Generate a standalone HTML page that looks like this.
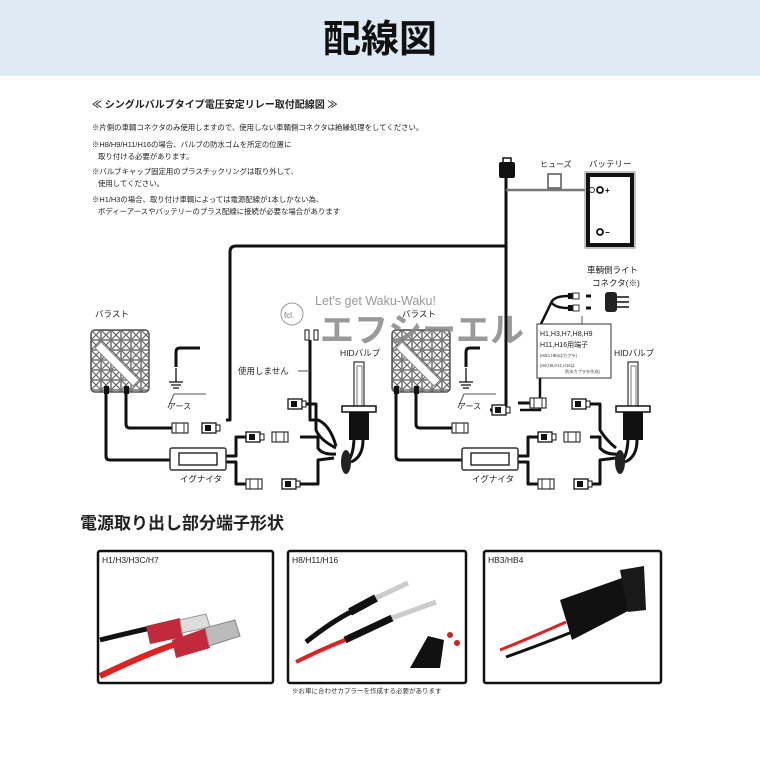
<!DOCTYPE html>
<html><head><meta charset="utf-8"><style>
body{margin:0;width:760px;height:760px;background:#fff;overflow:hidden}
svg{display:block}
text{font-family:"Liberation Sans","Noto Sans CJK JP",sans-serif}
</style></head><body>
<svg width="760" height="760" viewBox="0 0 760 760" xmlns="http://www.w3.org/2000/svg">
<defs>
<pattern id="xp" width="10" height="10" patternUnits="userSpaceOnUse">
<rect width="10" height="10" fill="#fff"/>
<path d="M0 0L10 10M10 0L0 10" stroke="#666" stroke-width="1.2"/>
<rect x="0.5" y="0.5" width="9" height="9" fill="none" stroke="#777" stroke-width="0.8"/>
</pattern>
<g id="ballast">
<rect x="0" y="0" width="58" height="62" rx="4" fill="url(#xp)" stroke="#555" stroke-width="1.5"/>
<path d="M10 12 L48 50 L42 56 L4 18Z" fill="#fff" stroke="#888"/>
</g>
<g id="bulb">
<rect x="-5" y="0" width="10" height="48" fill="#fff" stroke="#333" stroke-width="1.2"/>
<rect x="-2" y="4" width="5" height="40" fill="none" stroke="#777"/>
<rect x="-17" y="44" width="34" height="6" fill="#fff" stroke="#111" stroke-width="1.5"/>
<rect x="-10" y="50" width="20" height="28" fill="#111"/>
<path d="M-5 78 Q-6 95 -12 100 M4 78 Q4 95 -8 100" stroke="#111" stroke-width="3" fill="none"/>
<ellipse cx="-13" cy="100" rx="5" ry="12" fill="#222"/>
</g>
<g id="conn">
<rect x="0" y="-5" width="14" height="10" fill="#fff" stroke="#111" stroke-width="1.3"/>
<rect x="3" y="-3" width="6" height="6" fill="#111"/>
<rect x="14" y="-3" width="4" height="6" fill="#fff" stroke="#111"/>
</g>
<g id="connw">
<rect x="0" y="-5" width="16" height="10" fill="#fff" stroke="#333" stroke-width="1.2"/>
<path d="M4 -5V5M12 -5V5" stroke="#333"/>
</g>
<g id="ign">
<rect x="0" y="0" width="56" height="22" rx="2" fill="#fff" stroke="#333" stroke-width="1.5"/>
<rect x="9" y="5" width="38" height="12" fill="#fff" stroke="#111" stroke-width="1.3"/>
</g>
<g id="earth">
<path d="M0 -18 V-4 M-7 -4 H7 M-5 -1 H5 M-3 2 H3" stroke="#111" stroke-width="1.3" fill="none"/>
<path d="M-8 22 L-2 8 M-2 8 H30" stroke="#555" fill="none"/>
</g>
</defs>

<rect x="0" y="0" width="760" height="76" fill="#dfeaf5"/>
<text x="380" y="52" font-size="38" font-weight="bold" text-anchor="middle" fill="#111">配線図</text>

<text x="92" y="108" font-size="10" font-weight="bold" fill="#222">≪ シングルバルブタイプ電圧安定リレー取付配線図 ≫</text>
<g font-size="7.4" fill="#222">
<text x="92" y="130">※片側の車輌コネクタのみ使用しますので、使用しない車輌側コネクタは絶縁処理をしてください。</text>
<text x="92" y="147">※H8/H9/H11/H16の場合、バルブの防水ゴムを所定の位置に</text>
<text x="98" y="159">取り付ける必要があります。</text>
<text x="92" y="174">※バルブキャップ固定用のプラスチックリングは取り外して、</text>
<text x="98" y="186">使用してください。</text>
<text x="92" y="202">※H1/H3の場合、取り付け車輌によっては電源配線が1本しかない為、</text>
<text x="98" y="214">ボディーアースやバッテリーのプラス配線に接続が必要な場合があります</text>
</g>

<g stroke="#111" stroke-width="3" fill="none" stroke-linejoin="round">
<path d="M226 420 H230 V252 Q230 246 236 246 H506"/>
<path d="M506 178 V410 H490"/>
<path d="M176 367 V352 Q176 348 180 348 H200"/>
<path d="M466 367 V352 Q466 348 470 348 H480"/>
<path d="M106 392 V456 Q106 460 110 460 H170"/>
<path d="M126 392 V424 Q126 428 130 428 H172"/>
<path d="M396 392 V456 Q396 460 400 460 H462"/>
<path d="M416 392 V424 Q416 428 420 428 H452"/>
<path d="M225 456 H236 V437 H246 M225 462 H236 V484 H246"/>
<path d="M517 456 H528 V437 H538 M517 462 H528 V484 H538"/>
<path d="M300 437 H318 V448 Q322 455 336 454"/>
<path d="M300 484 H318 V460 L334 458"/>
<path d="M590 437 H600 V448 Q606 455 618 454"/>
<path d="M590 484 H600 V460 L616 458"/>
<path d="M296 404 H316 V430 Q320 440 336 448"/>
<path d="M310 340 V420 H318 Q330 425 336 446"/>
<path d="M583 404 H600 V430 Q606 440 616 448"/>
<path d="M518 403 H540"/>
</g>
<path d="M506 190 H588" stroke="#777" stroke-width="2.5"/>
<path d="M568 296 Q556 296 552 301 L540 326 V410 H520 M568 308 Q556 308 552 303" stroke="#111" stroke-width="2.5" fill="none"/>
<path d="M582 316 V324" stroke="#555"/>

<rect x="499" y="162" width="16" height="16" rx="2" fill="#111"/>
<rect x="503" y="158" width="8" height="5" fill="none" stroke="#111" stroke-width="1.5"/>
<rect x="548" y="174" width="13" height="14" fill="#fff" stroke="#555" stroke-width="1.5"/>
<text x="540" y="167" font-size="8" fill="#222">ヒューズ</text>
<text x="589" y="167" font-size="8.5" fill="#222">バッテリー</text>
<rect x="585" y="172" width="50" height="76" fill="#fff" stroke="#888" stroke-width="1"/>
<rect x="588" y="175" width="44" height="70" fill="none" stroke="#111" stroke-width="4"/>
<circle cx="592" cy="190" r="2.5" fill="#fff" stroke="#333"/>
<circle cx="600" cy="190" r="3" fill="#fff" stroke="#111" stroke-width="1.8"/>
<text x="605" y="193" font-size="8" font-weight="bold">+</text>
<circle cx="600" cy="232" r="3" fill="#fff" stroke="#111" stroke-width="1.8"/>
<text x="605" y="235" font-size="8" font-weight="bold">−</text>

<text x="95" y="317" font-size="8.5" fill="#222">バラスト</text>
<use href="#ballast" x="91" y="330"/>
<text x="402" y="317" font-size="8.5" fill="#222">バラスト</text>
<use href="#ballast" x="392" y="330"/>
<rect x="104" y="386" width="5" height="8" fill="#111"/><rect x="124" y="386" width="5" height="8" fill="#111"/>
<rect x="394" y="386" width="5" height="8" fill="#111"/><rect x="414" y="386" width="5" height="8" fill="#111"/>
<use href="#earth" x="176" y="386"/>
<text x="168" y="409" font-size="8" fill="#222">アース</text>
<use href="#earth" x="466" y="386"/>
<text x="458" y="409" font-size="8" fill="#222">アース</text>

<use href="#connw" x="172" y="428"/><use href="#conn" x="202" y="428"/>
<use href="#connw" x="452" y="428"/><use href="#conn" x="492" y="410"/>
<use href="#conn" x="288" y="404"/><use href="#conn" x="572" y="404"/>
<use href="#connw" x="530" y="403"/>
<use href="#conn" x="246" y="437"/><use href="#connw" x="272" y="437"/>
<use href="#connw" x="246" y="484"/><use href="#conn" x="282" y="484"/>
<use href="#conn" x="538" y="437"/><use href="#connw" x="564" y="437"/>
<use href="#connw" x="538" y="484"/><use href="#conn" x="574" y="484"/>

<use href="#ign" x="170" y="448"/>
<text x="180" y="482" font-size="8.5" fill="#222">イグナイタ</text>
<use href="#ign" x="462" y="448"/>
<text x="472" y="482" font-size="8.5" fill="#222">イグナイタ</text>

<text x="340" y="356" font-size="8.5" fill="#222">HIDバルブ</text>
<use href="#bulb" x="359" y="362"/>
<text x="614" y="356" font-size="8.5" fill="#222">HIDバルブ</text>
<use href="#bulb" x="633" y="362"/>

<text x="238" y="374" font-size="8.5" fill="#222">使用しません</text>
<path d="M298 371 H310" stroke="#555"/>
<rect x="305" y="330" width="4" height="10" fill="#fff" stroke="#111"/><rect x="314" y="330" width="4" height="10" fill="#fff" stroke="#111"/>

<text x="587" y="273" font-size="8.5" fill="#222">車輌側ライト</text>
<text x="592" y="286" font-size="8.5" fill="#222">コネクタ(※)</text>
<rect x="568" y="293" width="5" height="6" fill="#111"/><rect x="573" y="293" width="6" height="6" fill="#fff" stroke="#333"/>
<rect x="568" y="305" width="5" height="6" fill="#111"/><rect x="573" y="305" width="6" height="6" fill="#fff" stroke="#333"/>
<path d="M586 296 h5 M586 308 h5" stroke="#111" stroke-width="3"/>
<rect x="605" y="292" width="12" height="20" rx="3" fill="#222"/>
<path d="M617 297 h12 M617 302 h12 M617 307 h12" stroke="#111" stroke-width="1.5"/>
<rect x="537" y="324" width="74" height="54" fill="#fff" stroke="#333"/>
<text x="540" y="336" font-size="7" fill="#222">H1,H3,H7,H8,H9</text>
<text x="540" y="347" font-size="7" fill="#222">H11,H16用端子</text>
<text x="540" y="357" font-size="4.2" fill="#444">(HB3,HB4はカプラ)</text>
<text x="540" y="367" font-size="4.2" fill="#444">(H8,H9,H11,H16は</text>
<text x="565" y="373" font-size="4.2" fill="#444">防水カプラを作成)</text>

<g>
<circle cx="292" cy="314" r="11" fill="#fff" stroke="#999"/>
<text x="284" y="318" font-size="8" fill="#777" font-family="Liberation Serif,serif">fcl.</text>
<text x="315" y="305" font-size="12.5" fill="#999">Let's get Waku-Waku!</text>
<text x="320" y="342" font-size="34" font-weight="bold" fill="#888" fill-opacity="0.85">エフシーエル</text>
</g>

<text x="80" y="529" font-size="17" font-weight="bold" fill="#222">電源取り出し部分端子形状</text>
<g fill="#fff" stroke="#111" stroke-width="2.5">
<rect x="98" y="551" width="175" height="132" rx="2"/>
<rect x="288" y="551" width="178" height="132" rx="2"/>
<rect x="484" y="551" width="177" height="132" rx="2"/>
</g>
<g font-size="8.5" fill="#222">
<text x="102" y="563">H1/H3/H3C/H7</text>
<text x="292" y="563">H8/H11/H16</text>
<text x="488" y="563">HB3/HB4</text>
</g>
<text x="292" y="693" font-size="6.5" fill="#333">※お車に合わせカプラーを作成する必要があります</text>

<path d="M100 640 Q140 630 170 624" stroke="#111" stroke-width="5" fill="none"/>
<path d="M100 676 Q150 652 182 642" stroke="#d22" stroke-width="6" fill="none"/>
<path d="M146 626 L180 618 L183 637 L150 644Z" fill="#c12a3a"/>
<path d="M180 620 L206 614 L210 627 L182 633Z" fill="#ddd" stroke="#999"/>
<path d="M172 640 L206 628 L210 648 L176 658Z" fill="#c12a3a"/>
<path d="M205 628 L235 620 L240 636 L209 646Z" fill="#bbb" stroke="#888"/>
<path d="M306 642 Q340 615 366 605" stroke="#111" stroke-width="5" fill="none"/>
<path d="M350 612 L376 598" stroke="#111" stroke-width="8"/>
<path d="M376 598 L408 583" stroke="#ccc" stroke-width="5"/>
<path d="M296 662 Q320 650 345 640" stroke="#d22" stroke-width="4" fill="none"/>
<path d="M345 640 L392 618" stroke="#111" stroke-width="7"/>
<path d="M392 618 L436 602" stroke="#ccc" stroke-width="5"/>
<path d="M410 668 L428 636 L444 640 L440 668 Z" fill="#111"/>
<circle cx="450" cy="635" r="3" fill="#c22"/><circle cx="457" cy="643" r="3" fill="#c22"/>
<path d="M560 600 L622 578 L630 610 L572 640Z" fill="#111"/>
<path d="M620 570 L644 566 L646 610 L628 612Z" fill="#1a1a1a"/>
<path d="M500 650 Q530 638 566 622" stroke="#d22" stroke-width="3" fill="none"/>
<path d="M506 657 Q540 645 572 632" stroke="#111" stroke-width="3" fill="none"/>
</svg>
</body></html>
